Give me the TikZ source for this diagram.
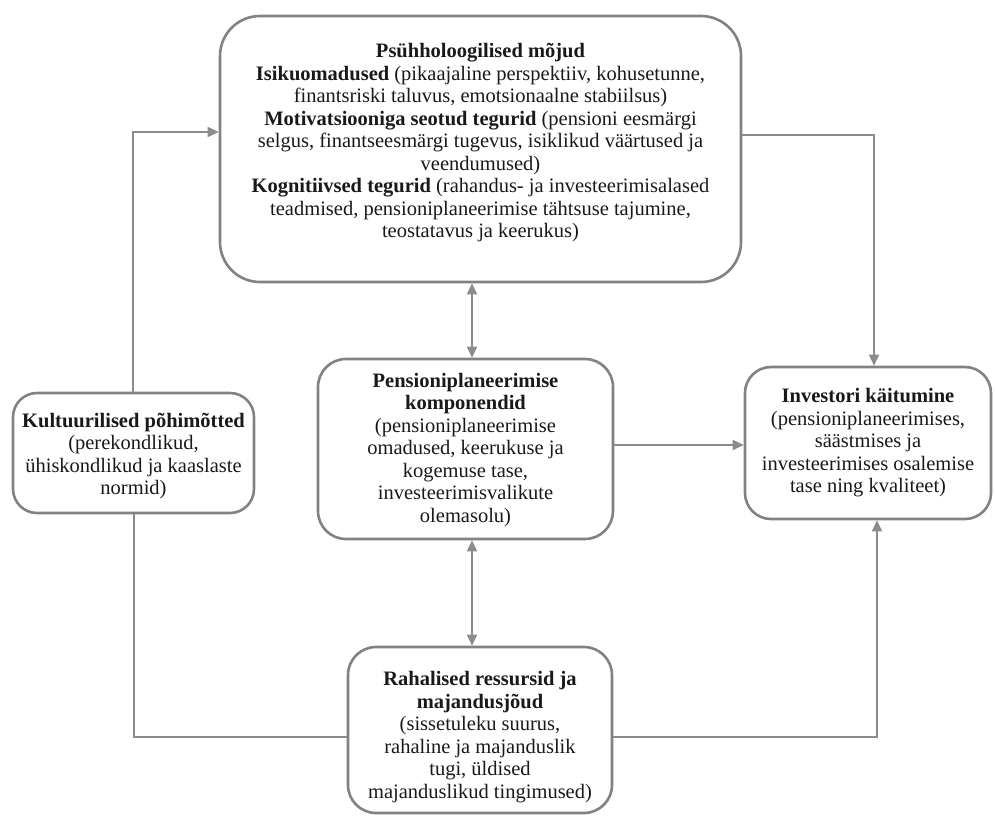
\documentclass[tikz,border=0pt]{standalone}
\usepackage{fontspec}
\setmainfont{Liberation Serif}
\usetikzlibrary{arrows.meta}
\definecolor{linegray}{RGB}{140,140,140}
\definecolor{boxgray}{RGB}{130,130,130}
\tikzset{
 box/.style={draw=boxgray, line width=2.6pt, inner sep=0pt, fill=white},
 txt/.style={align=center, font=\fontsize{20.5}{22.5}\selectfont, text=black!90, inner sep=0pt},
 conn/.style={draw=linegray, line width=1.6pt},
 tip/.style={-{Triangle[length=11pt,width=10pt]}},
 twotip/.style={{Triangle[length=11pt,width=10pt]}-{Triangle[length=11pt,width=10pt]}},
}
\begin{document}
\begin{tikzpicture}[x=1pt,y=-1pt]
\useasboundingbox (0,0) rectangle (995,822);
% boxes
\node[box, rounded corners=40pt, minimum width=521pt, minimum height=266pt] (psy) at (480.5,149) {};
\node[txt] (psyt) at (480.5,143) {\textbf{Psühholoogilised mõjud}\\
\textbf{Isikuomadused} (pikaajaline perspektiiv, kohusetunne,\\
finantsriski taluvus, emotsionaalne stabiilsus)\\
\textbf{Motivatsiooniga seotud tegurid} (pensioni eesmärgi\\
selgus, finantseesmärgi tugevus, isiklikud väärtused ja\\
veendumused)\\
\textbf{Kognitiivsed tegurid} (rahandus- ja investeerimisalased\\
teadmised, pensioniplaneerimise tähtsuse tajumine,\\
teostatavus ja keerukus)};

\node[box, rounded corners=24pt, minimum width=241pt, minimum height=120pt] (kult) at (133.5,453) {};
\node[txt] (kultt) at (133.5,456) {\textbf{Kultuurilised põhimõtted}\\
(perekondlikud,\\
ühiskondlikud ja kaaslaste\\
normid)};

\node[box, rounded corners=28pt, minimum width=295pt, minimum height=180pt] (pens) at (465.5,449) {};
\node[txt] (penst) at (465.5,450) {\textbf{Pensioniplaneerimise}\\
\textbf{komponendid}\\
(pensioniplaneerimise\\
omadused, keerukuse ja\\
kogemuse tase,\\
investeerimisvalikute\\
olemasolu)};

\node[box, rounded corners=26pt, minimum width=246pt, minimum height=152pt] (inv) at (868,443) {};
\node[txt] (invt) at (868,443) {\textbf{Investori käitumine}\\
(pensioniplaneerimises,\\
säästmises ja\\
investeerimises osalemise\\
tase ning kvaliteet)};

\node[box, rounded corners=28pt, minimum width=264pt, minimum height=166pt] (raha) at (480,730) {};
\node[txt] (rahat) at (480,737) {\textbf{Rahalised ressursid ja}\\
\textbf{majandusjõud}\\
(sissetuleku suurus,\\
rahaline ja majanduslik\\
tugi, üldised\\
majanduslikud tingimused)};

% helper coordinates
\coordinate (cl) at (133,132);
\coordinate (cb) at (134,737);
\coordinate (cr) at (874,135);
\coordinate (crb) at (877,737);
\coordinate (cm) at (472,445);

% connectors
\draw[conn,tip] (kult.north -| cl) |- (psy.west |- cl);
\draw[conn] (kult.south -| cb) |- (raha.west |- cb);
\draw[conn,tip] (raha.east |- crb) -| (inv.south -| crb);
\draw[conn,tip] (psy.east |- cr) -| (inv.north -| cr);
\draw[conn,tip] (pens.east |- cm) -- (inv.west |- cm);
\draw[conn,twotip] (psy.south -| cm) -- (pens.north -| cm);
\draw[conn,twotip] (pens.south -| cm) -- (raha.north -| cm);
\end{tikzpicture}
\end{document}
